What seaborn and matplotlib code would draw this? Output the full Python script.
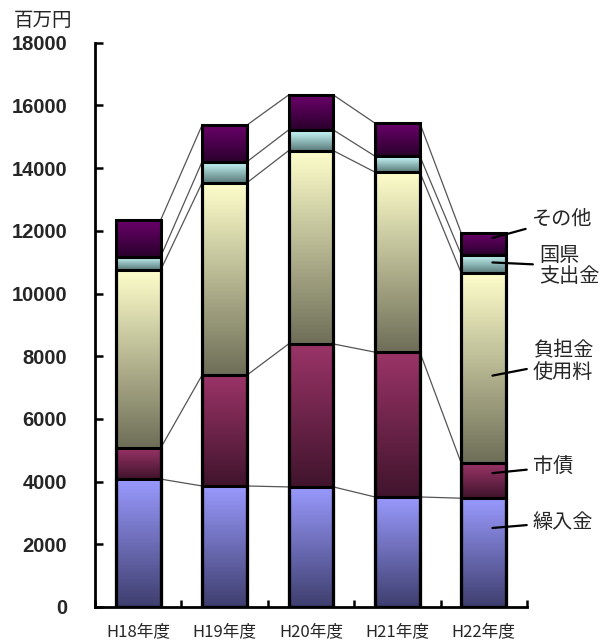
import numpy as np
import pandas as pd
import matplotlib
matplotlib.use("Agg")
import matplotlib.pyplot as plt
from matplotlib.colors import LinearSegmentedColormap
import seaborn as sns

# 年度別の財源内訳（百万円）
years = ["H18年度", "H19年度", "H20年度", "H21年度", "H22年度"]
kurire = [4080, 3860, 3830, 3510, 3470]        # 繰入金
shisai = [990, 3540, 4560, 4620, 1110]         # 市債
futan = [5680, 6135, 6165, 5742, 6065]         # 負担金・使用料
kokken = [425, 670, 660, 510, 585]             # 国県支出金
sonota = [1170, 1170, 1115, 1052, 690]         # その他

series_names = ["繰入金", "市債", "負担金\n使用料", "国県\n支出金", "その他"]
series_values = [kurire, shisai, futan, kokken, sonota]

# gradient colours per series (top, bottom)
grad_colors = [
    ("#9a9aff", "#3e3e6e"),
    ("#9b3468", "#40142c"),
    ("#ffffcc", "#6e6e58"),
    ("#ccffff", "#587878"),
    ("#6a006a", "#2a002c"),
]

sns.set_style("white")
jp = ["Noto Sans CJK JP", "DejaVu Sans"]

fig = plt.figure(figsize=(6.11, 6.42), dpi=100)
ax = fig.add_axes([95 / 611, 35 / 642, 432 / 611, 564.3 / 642])

cum = np.cumsum(np.array(series_values), axis=0)
bar_w = 0.52

# stacked bars: cumulative totals drawn from the tallest layer down
containers = []
for k in range(len(series_values) - 1, -1, -1):
    df = pd.DataFrame({"year": years, "value": cum[k]})
    sns.barplot(data=df, x="year", y="value", ax=ax, width=bar_w,
                color="white", edgecolor="black", linewidth=2.2,
                saturation=1, errorbar=None)
    containers.append((k, ax.containers[-1]))

# gradient fill per segment, outlines on top
for k, cont in containers:
    top_c, bot_c = grad_colors[k]
    cmap = LinearSegmentedColormap.from_list(f"g{k}", [bot_c, top_c])
    grad = np.linspace(0, 1, 256).reshape(-1, 1)
    for i, patch in enumerate(cont.patches):
        x0 = patch.get_x()
        x1 = x0 + patch.get_width()
        lo = cum[k - 1][i] if k > 0 else 0
        hi = cum[k][i]
        ax.imshow(grad, extent=[x0, x1, lo, hi], origin="lower",
                  aspect="auto", cmap=cmap, zorder=2, interpolation="bilinear")
        patch.set_facecolor("none")
        patch.set_zorder(3)

# series lines joining the segment tops of neighbouring bars
for k in range(len(series_values)):
    for i in range(len(years) - 1):
        ax.plot([i + bar_w / 2, i + 1 - bar_w / 2], [cum[k][i], cum[k][i + 1]],
                color="#555555", lw=0.9, zorder=1)

ax.set_xlim(-0.5, len(years) - 0.5)
ax.set_ylim(0, 18000)
ax.set_yticks(np.arange(0, 18001, 2000))
ax.set_xlabel("")
ax.set_ylabel("")

for s in ["top", "right"]:
    ax.spines[s].set_visible(False)
for s in ["left", "bottom"]:
    ax.spines[s].set_color("black")
    ax.spines[s].set_linewidth(2)

ax.tick_params(axis="y", direction="in", length=6, width=1.8, color="black",
               left=True, pad=20)
ax.tick_params(axis="x", which="major", length=0, pad=12)
ax.set_xticks(np.arange(-0.5, len(years), 1.0), minor=True)
ax.tick_params(axis="x", which="minor", direction="in", length=5, width=1.8,
               color="black", bottom=True)

for lab in ax.get_yticklabels():
    lab.set_fontfamily("Liberation Sans")
    lab.set_fontweight("bold")
    lab.set_fontsize(14.5)
for lab in ax.get_xticklabels():
    lab.set_fontfamily(jp)
    lab.set_fontsize(12)

fig.text(14 / 611, 1 - 20 / 642, "百万円", family=jp, fontsize=14,
         va="center", ha="left")

# labels for the last bar's segments
last = len(years) - 1
anchor_vals = [2520, 4270, 7380, 10990, 11770]
text_pos = [(0.872, 522), (0.872, 467), (0.872, 362), (0.882, 266), (0.87, 219)]
for name, yv, (fx, py) in zip(series_names, anchor_vals, text_pos):
    ax.annotate(name, xy=(last + 0.1, yv), xycoords="data",
                xytext=(fx, 1 - py / 642), textcoords="figure fraction",
                family=jp, fontsize=14.5, va="center", ha="left",
                linespacing=1.05,
                arrowprops=dict(arrowstyle="-", color="black", lw=1.6,
                                shrinkA=2, shrinkB=0),
                annotation_clip=False, zorder=5)

fig.savefig("out.png", dpi=100)
